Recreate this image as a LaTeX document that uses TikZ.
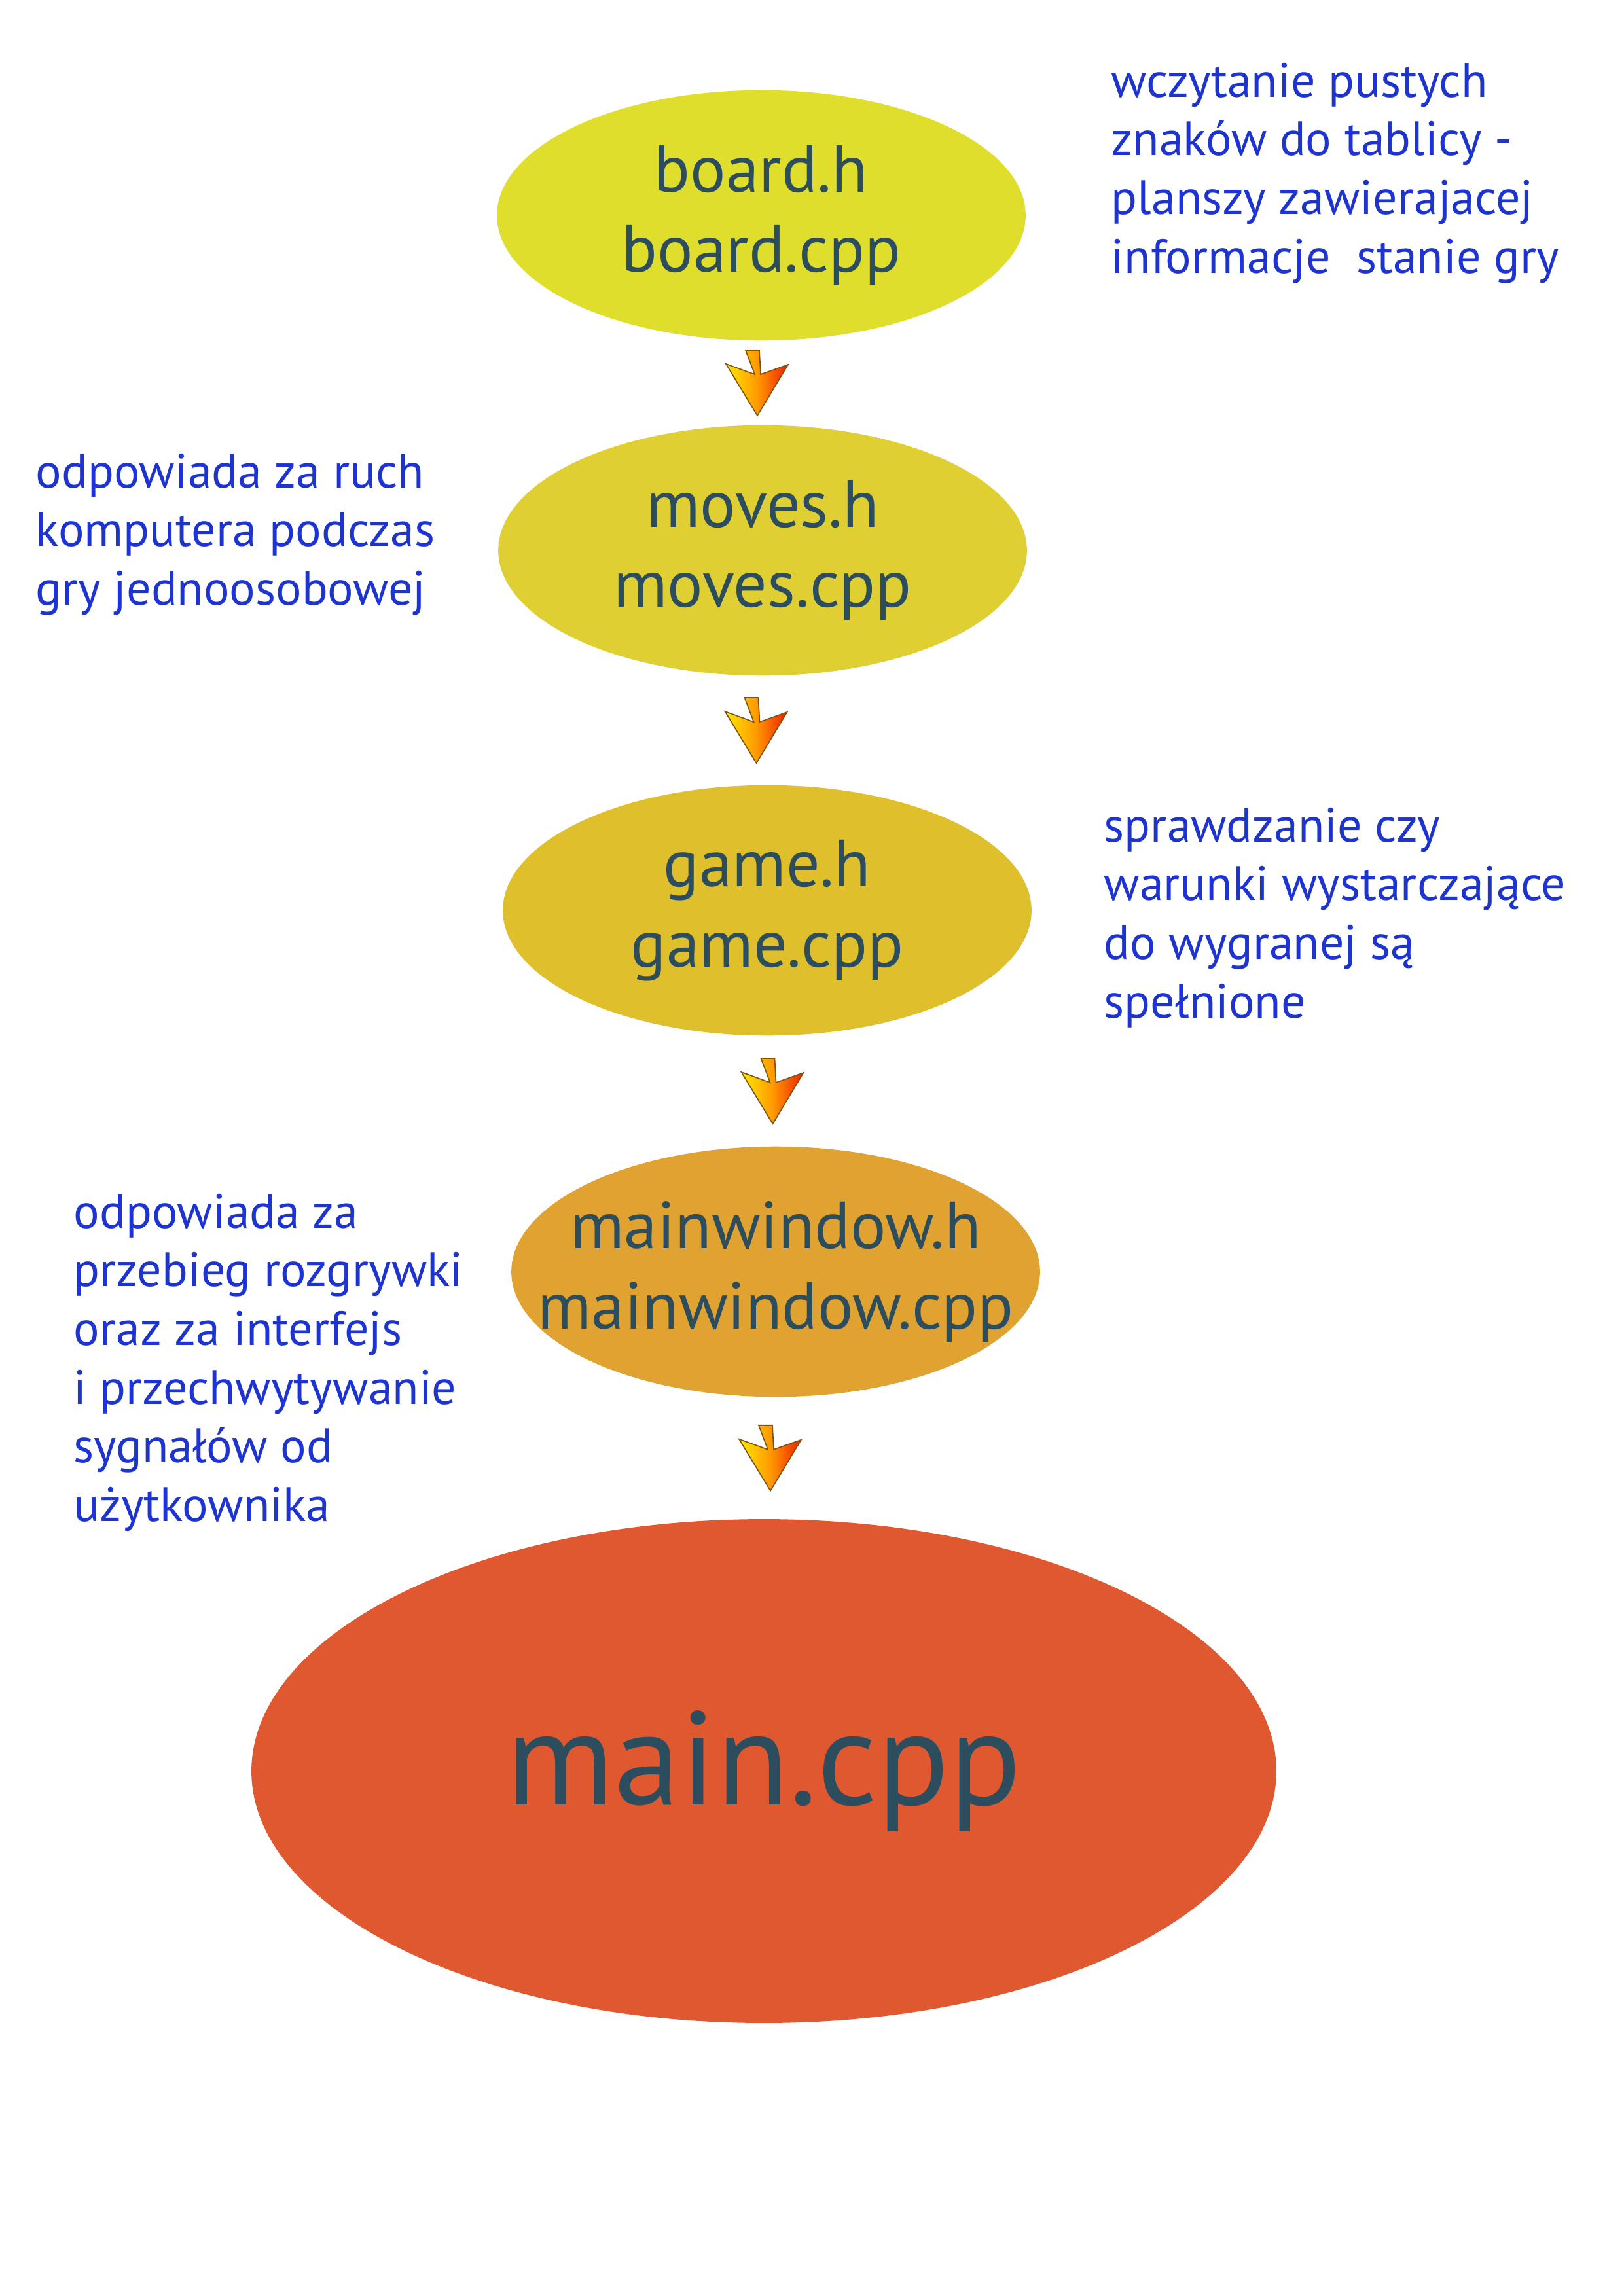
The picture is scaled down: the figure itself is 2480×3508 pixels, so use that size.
\documentclass[tikz,border=0pt]{standalone}
\usepackage{fontspec}
\setmainfont{PT Sans}
\usetikzlibrary{shapes.geometric, calc}
\definecolor{BoardYellow}{HTML}{E0DE2C}
\definecolor{MovesYellow}{HTML}{E0CF33}
\definecolor{GameGold}{HTML}{DFC02C}
\definecolor{WindowOrange}{HTML}{E0A230}
\definecolor{MainRed}{HTML}{E0582F}
\definecolor{SlateText}{HTML}{2B4D5E}
\definecolor{NoteBlue}{HTML}{1E34D0}
\definecolor{ArrowYellow}{HTML}{FFE800}
\definecolor{ArrowOrange}{HTML}{FF9A00}
\definecolor{ArrowRed}{HTML}{F02000}
\definecolor{ArrowEdge}{HTML}{7A5512}
\tikzset{
  filenode/.style={ellipse, draw=none, align=center, inner ysep=0pt, inner xsep=-20pt, text=SlateText, font=\fontsize{24.5}{29.6}\selectfont, minimum width=6.84cm, minimum height=3.24cm},
  mainnode/.style={ellipse, draw=none, align=center, inner sep=0pt, text=SlateText, font=\fontsize{49}{56}\selectfont, minimum width=13.26cm, minimum height=6.52cm},
  note/.style={align=left, anchor=north west, inner sep=0pt, text=NoteBlue, font=\fontsize{17.8}{21.6}\selectfont},
  blockarrow/.style={draw=ArrowEdge, line width=0.4pt, left color=ArrowYellow, right color=ArrowRed, middle color=ArrowOrange}
}
\begin{document}
\begin{tikzpicture}[x=0.0084677cm, y=-0.0084677cm]
\useasboundingbox (0,0) rectangle (2480,3508);

% source files
\node[filenode, fill=BoardYellow] (board) at (1163,329) {board.h\\board.cpp};
\node[filenode, fill=MovesYellow] (moves) at (1165,841) {moves.h\\moves.cpp};
\node[filenode, fill=GameGold] (game) at (1172,1391) {game.h\\game.cpp};
\node[filenode, fill=WindowOrange] (mainwin) at (1185,1943) {mainwindow.h\\mainwindow.cpp};
\node[mainnode, fill=MainRed] (main) at (1167,2706) {main.cpp};

% descriptions
\node[note] (boardnote) at (1697,95) {wczytanie pustych\\znaków do tablicy -\\planszy zawierajacej\\informacje~ stanie gry};
\node[note] (movesnote) at (54,692) {odpowiada za ruch\\komputera podczas\\gry jednoosobowej};
\node[note] (gamenote) at (1686,1233) {sprawdzanie czy\\warunki wystarczające\\do wygranej są\\spełnione};
\node[note] (mainwinnote) at (112,1823) {odpowiada za\\przebieg rozgrywki\\oraz za interfejs\\i przechwytywanie\\sygnałów od\\użytkownika};

% arrows between the files
\foreach \a/\b/\dx in {board/moves/-12, moves/game/-18, game/mainwin/-3, mainwin/main/-4} {
  \coordinate (m) at ($(\a.south)!0.5!(\b.north)$);
  \draw[blockarrow] ($(m)+(\dx,0)$) ++(-13,-50) -- ++(21,0) -- ++(2,37) -- ++(42,-15)
    -- ++(-47,78) -- ++(-48,-79) -- ++(44,16) -- cycle;
}
\end{tikzpicture}
\end{document}
